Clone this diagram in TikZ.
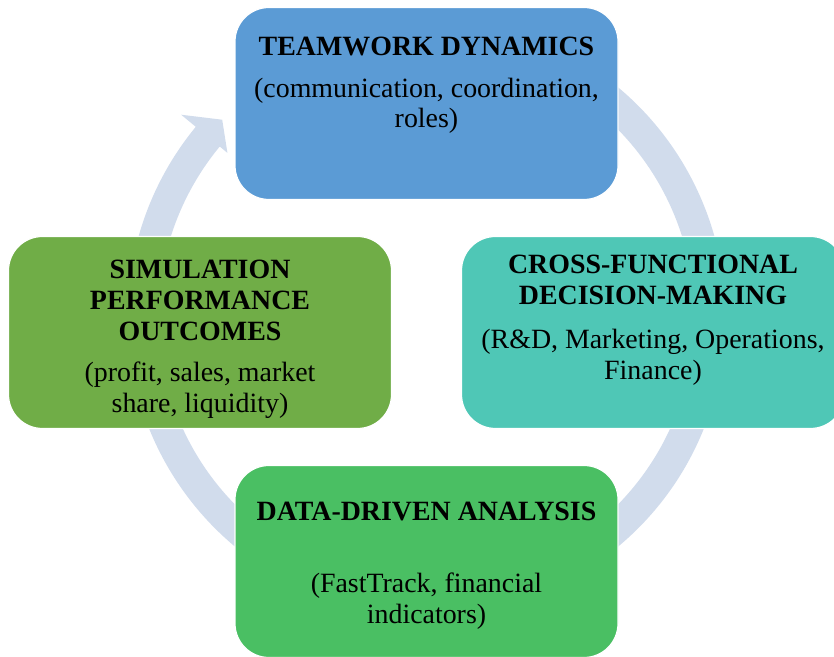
\documentclass[tikz,border=0pt]{standalone}
\usepackage{fontspec}
\setmainfont{Liberation Serif}
\definecolor{ringblue}{HTML}{D1DCEC}
\definecolor{teamblue}{HTML}{5B9BD5}
\definecolor{crossteal}{HTML}{4FC7B6}
\definecolor{datagreen}{HTML}{4ABF63}
\definecolor{simgreen}{HTML}{70AD47}
\begin{document}
\begin{tikzpicture}[x=1bp,y=1bp,
  card/.style={rounded corners=34bp, minimum width=383bp, minimum height=192bp,
    draw=white, line width=1.2bp, inner sep=0pt},
  cardtext/.style={align=center, anchor=north, inner sep=0pt,
    font=\fontsize{28}{31}\selectfont, text=black},
]
\useasboundingbox (0,0) rectangle (834,657);
\clip (0,0) rectangle (834,657);

% circular arrow running clockwise behind the four stages
\begin{scope}[shift={(426.5,340)}]
  \fill[ringblue] (430:299) arc[start angle=430, end angle=140.5, radius=299]
    -- (140.5:318) -- (136:284) -- (140.5:258) -- (140.5:268)
    arc[start angle=140.5, end angle=430, radius=268] -- cycle;
\end{scope}

% stage cards
\node[card, fill=teamblue]  (team)  at (426.5,553.5) {};
\node[card, fill=crossteal] (cross) at (653,324.5) {};
\node[card, fill=datagreen] (data)  at (426.5,95.5) {};
\node[card, fill=simgreen]  (sim)   at (200,324.5) {};

% stage texts
\node[cardtext] (teamtxt) at (426.5,620.5)
  {\textbf{TEAMWORK DYNAMICS}\\[11bp](communication, coordination,\\roles)};
\node[cardtext] (crosstxt) at (653,402)
  {\textbf{CROSS-FUNCTIONAL}\\\textbf{DECISION-MAKING}\\[13bp](R\&D, Marketing, Operations,\\Finance)};
\node[cardtext] (datatxt) at (426.5,155)
  {\textbf{DATA-DRIVEN ANALYSIS}\\[41bp](FastTrack, financial\\indicators)};
\node[cardtext] (simtxt) at (200,397)
  {\textbf{SIMULATION}\\\textbf{PERFORMANCE}\\\textbf{OUTCOMES}\\[10bp](profit, sales, market\\share, liquidity)};
\end{tikzpicture}
\end{document}
